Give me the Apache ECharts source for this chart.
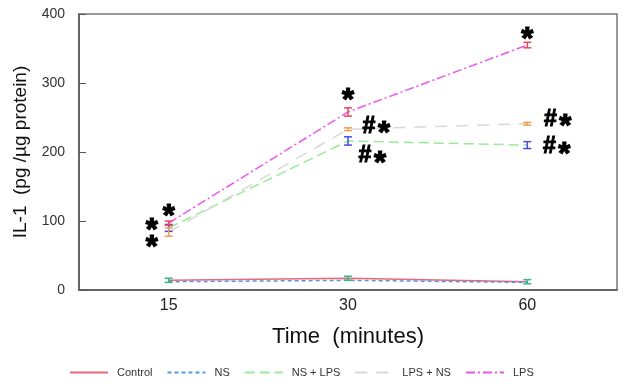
<!DOCTYPE html>
<html>
<head>
<meta charset="utf-8">
<script src="https://cdn.jsdelivr.net/npm/echarts@6/dist/echarts.min.js"></script>
<style>
  html, body { margin: 0; padding: 0; background: #fff; }
  #chart { width: 626px; height: 389px; }
</style>
</head>
<body>
<div id="chart"></div>
<script>
// time points (minutes)
const times = ['15', '30', '60']

// IL-1 (pg/µg protein)
const control = [14, 17, 12]
const ns = [12, 14, 11]
const nsLps = [90, 216, 210]
const lpsNs = [84, 233, 241]
const lps = [97, 258, 355]

// error bar half-widths
const controlErr = [3, 3, 3]
const nsLpsErr = [5, 6, 5]
const lpsNsErr = [6, 2, 2]
const lpsErr = [3, 6, 4]

// significance marks: [time index, value, text]
const marks = [
  [0, 97, '*'], [0, 97, '*'], [0, 97, '*'],
  [1, 258, '*'], [1, 233, '#*'], [1, 216, '#*'],
  [2, 355, '*'], [2, 241, '#*'], [2, 210, '#*']
]
// pixel offsets of the marks from their points
const markOffsets = [
  [0, -6], [-17, 8], [-17, 25],
  [0, -11], [21, -3], [17, 15],
  [0, -5], [23, -4], [22, 2]
]

const chart = echarts.init(document.getElementById('chart'))

const errorBars = (name, values, errs, color) => ({
  name: name,
  type: 'custom',
  z: 3,
  data: values.map((v, i) => [i, v - errs[i], v + errs[i]]),
  renderItem: (params, api) => {
    const lo = api.coord([api.value(0), api.value(1)])
    const hi = api.coord([api.value(0), api.value(2)])
    const w = 4
    const st = { stroke: color, lineWidth: 1.5 }
    return {
      type: 'group',
      children: [
        { type: 'line', shape: { x1: lo[0], y1: lo[1], x2: hi[0], y2: hi[1] }, style: st },
        { type: 'line', shape: { x1: lo[0] - w, y1: lo[1], x2: lo[0] + w, y2: lo[1] }, style: st },
        { type: 'line', shape: { x1: hi[0] - w, y1: hi[1], x2: hi[0] + w, y2: hi[1] }, style: st }
      ]
    }
  }
})

const lineSeries = (name, data, color, type) => ({
  name: name,
  type: 'line',
  data: data,
  symbol: 'none',
  z: 2,
  lineStyle: { color: color, width: 1.5, type: type },
  itemStyle: { color: color }
})

const glyph = (text, x, y, size, lw) => ({
  type: 'text',
  x: x,
  y: y,
  style: {
    text: text,
    fontSize: size,
    fontWeight: 'bold',
    fontFamily: 'Liberation Sans, Arial, sans-serif',
    fill: '#000',
    stroke: '#000',
    lineWidth: lw,
    align: 'center',
    verticalAlign: 'middle'
  }
})

const option = {
  animation: false,
  textStyle: { fontFamily: 'Liberation Sans, Arial, sans-serif' },
  grid: { left: 79, right: 9, top: 14, bottom: 99, show: true, borderColor: '#777', borderWidth: 1.5 },
  legend: {
    data: ['Control', 'NS', 'NS + LPS', 'LPS + NS', 'LPS'],
    bottom: 6,
    left: 64,
    itemWidth: 38,
    itemHeight: 10,
    itemGap: 14,
    itemStyle: { opacity: 0 },
    textStyle: { fontSize: 11, color: '#333', padding: [0, 0, 0, 4] }
  },
  xAxis: {
    type: 'category',
    data: times,
    name: 'Time  (minutes)',
    nameLocation: 'middle',
    nameGap: 36,
    nameTextStyle: { fontSize: 22, color: '#111' },
    axisLine: { lineStyle: { color: '#555', width: 1.5 } },
    axisTick: { inside: true, alignWithLabel: true, length: 7, lineStyle: { color: '#555' } },
    axisLabel: { fontSize: 16, color: '#222', margin: 8 }
  },
  yAxis: {
    type: 'value',
    min: 0,
    max: 400,
    interval: 100,
    name: 'IL-1  (pg /µg protein)',
    nameLocation: 'middle',
    nameGap: 40,
    nameTextStyle: { fontSize: 19, color: '#111' },
    splitLine: { show: false },
    axisLine: { show: true, lineStyle: { color: '#555', width: 1.5 } },
    axisTick: { show: true, inside: true, length: 7, lineStyle: { color: '#555' } },
    axisLabel: { fontSize: 14, color: '#333', margin: 14 }
  },
  series: [
    lineSeries('Control', control, '#ee6677', 'solid'),
    lineSeries('NS', ns, '#4f9be0', [4, 3]),
    lineSeries('NS + LPS', nsLps, '#98ec98', [10, 5]),
    lineSeries('LPS + NS', lpsNs, '#d8d8d8', [12, 9]),
    lineSeries('LPS', lps, '#ee55ee', [9, 3, 2, 3]),
    errorBars('errControl', control, controlErr, '#33bb88'),
    errorBars('errNsLps', nsLps, nsLpsErr, '#4a4ae0'),
    errorBars('errLpsNs', lpsNs, lpsNsErr, '#f0a050'),
    errorBars('errLps', lps, lpsErr, '#e84860'),
    {
      name: 'marks',
      type: 'custom',
      z: 5,
      data: marks,
      renderItem: (params, api) => {
        const p = api.coord([api.value(0), api.value(1)])
        const off = markOffsets[params.dataIndex]
        const text = marks[params.dataIndex][2]
        const x = p[0] + off[0]
        const y = p[1] + off[1]
        if (text === '*') return glyph('*', x, y, 31, 1.2)
        // '#' drawn smaller so it matches the big asterisk height
        return {
          type: 'group',
          children: [
            glyph('#', x, y, 23, 1.1),
            glyph('*', x + 15, y + 8, 31, 1.2)
          ]
        }
      }
    }
  ]
}

chart.setOption(option)
</script>
</body>
</html>
